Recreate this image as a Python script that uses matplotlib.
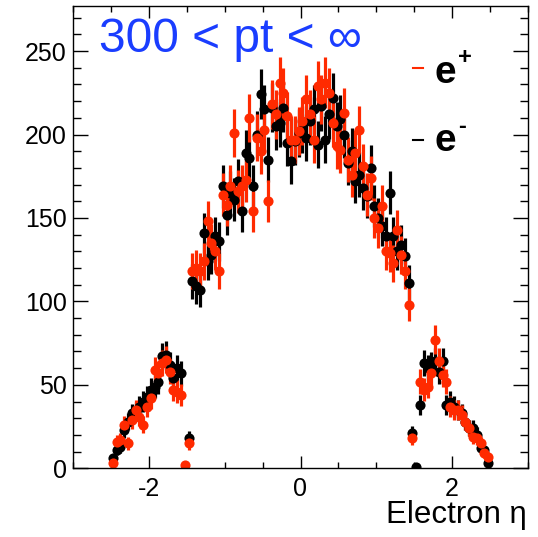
import numpy as np
import matplotlib
matplotlib.use("Agg")
import matplotlib.pyplot as plt
from matplotlib.ticker import MultipleLocator, FixedLocator

# eta bin centres: 100 bins of width 0.05 between -2.5 and 2.5
eta = np.round(np.arange(-2.475, 2.5, 0.05), 3)

# e- (black) counts per bin
e_minus = [
    # -2.475 .. -1.475
    6, 11, 13, 23, 28, 33, 34, 37, 40, 43, 47, 49, 52, 67, 68, 62, 54, 60, 57, 0, 18,
    # -1.425 .. 1.425
    112, 109, 107, 141, 124, 128, 139, 136, 169, 152, 165, 161, 172, 154, 189, 186,
    169, 200, 224, 215, 185, 216, 205, 207, 216, 195, 184, 196, 201, 203, 198, 208,
    215, 194, 217, 197, 212, 222, 205, 209, 200, 183, 190, 172, 176, 168, 163, 180,
    157, 150, 145, 139, 165, 139, 130, 134, 127, 111,
    # 1.475 .. 2.475
    21, 1, 38, 63, 60, 62, 64, 58, 64, 38, 40, 37, 35, 33, 28, 24, 24, 20, 12, 11, 3,
]

# e+ (red) counts per bin
e_plus = [
    # -2.475 .. -1.475
    3, 16, 17, 26, 15, 29, 35, 31, 26, 37, 42, 59, 57, 63, 65, 58, 47, 46, 44, 2, 15,
    # -1.425 .. 1.425
    118, 120, 118, 124, 148, 135, 130, 118, 164, 158, 169, 201, 166, 169, 173, 210,
    154, 198, 190, 203, 160, 218, 212, 231, 225, 211, 197, 197, 202, 208, 221, 212,
    197, 229, 221, 231, 225, 207, 193, 191, 213, 185, 176, 189, 203, 181, 164, 174,
    150, 144, 157, 130, 129, 123, 143, 128, 118, 98,
    # 1.475 .. 2.475
    18, 0, 52, 47, 49, 57, 77, 64, 56, 52, 37, 35, 35, 32, 28, 24, 19, 18, 15, 9, 7,
]

RED = "#ff2a00"
BLACK = "#000000"
BLUE = "#1a3dff"

plt.rcParams["font.family"] = ["Liberation Sans", "DejaVu Sans"]
plt.rcParams["axes.unicode_minus"] = False

W, H = 538, 537
fig = plt.figure(figsize=(W / 100, H / 100), dpi=100)
ax = fig.add_axes([73 / W, 1 - 468.3 / H, (528 - 73) / W, (468.3 - 6) / H])


def to_fig(x, y):
    # pixel position (from top-left) -> figure fraction
    return x / W, 1 - y / H


def draw(values, color):
    y = np.array(values, dtype=float)
    keep = y > 0  # empty bins are not drawn
    ax.errorbar(eta[keep], y[keep], yerr=np.sqrt(y[keep]), fmt="o",
                color=color, ms=7.3, elinewidth=2.3, capsize=0,
                markeredgewidth=0)


draw(e_minus, BLACK)
draw(e_plus, RED)

ax.set_xlim(-3, 3)
ax.set_ylim(0, 277)

ax.xaxis.set_major_locator(FixedLocator([-2, 0, 2]))
ax.xaxis.set_minor_locator(MultipleLocator(0.5))
ax.yaxis.set_major_locator(MultipleLocator(50))
ax.yaxis.set_minor_locator(MultipleLocator(10))

ax.tick_params(which="both", direction="in", top=True, right=True,
               labelsize=18, width=1)
ax.tick_params(axis="x", which="major", length=8.6, pad=6)
ax.tick_params(axis="x", which="minor", length=4.3)
ax.tick_params(axis="y", which="major", length=10.8, pad=4.5)
ax.tick_params(axis="y", which="minor", length=5.8)
for s in ax.spines.values():
    s.set_linewidth(1)

# axis title, right aligned under the frame
tx, ty = to_fig(527, 515)
fig.text(tx, ty, "Electron \u03b7", fontsize=22.5, ha="right", va="center")

# title-like label inside the frame
tx, ty = to_fig(99, 52)
fig.text(tx, ty, "300 < pt < \u221e", fontsize=34.5, color=BLUE,
         ha="left", va="baseline")

# legend, drawn by hand
for color, ly, ey, sup, supy in [(RED, 68, 73, "+", 58), (BLACK, 140, 141, "-", 126)]:
    x0, y0 = to_fig(413, ly)
    x1, _ = to_fig(423, ly)
    fig.add_artist(plt.Line2D([x0, x1], [y0, y0], color=color, lw=1.5))
    ex, eyf = to_fig(434, ey)
    fig.text(ex, eyf, "e", fontsize=28, fontweight="bold", ha="left", va="center")
    sx, syf = to_fig(458, supy)
    fig.text(sx, syf, sup, fontsize=17, fontweight="bold", ha="left", va="center")

fig.savefig("out.png", dpi=100)
